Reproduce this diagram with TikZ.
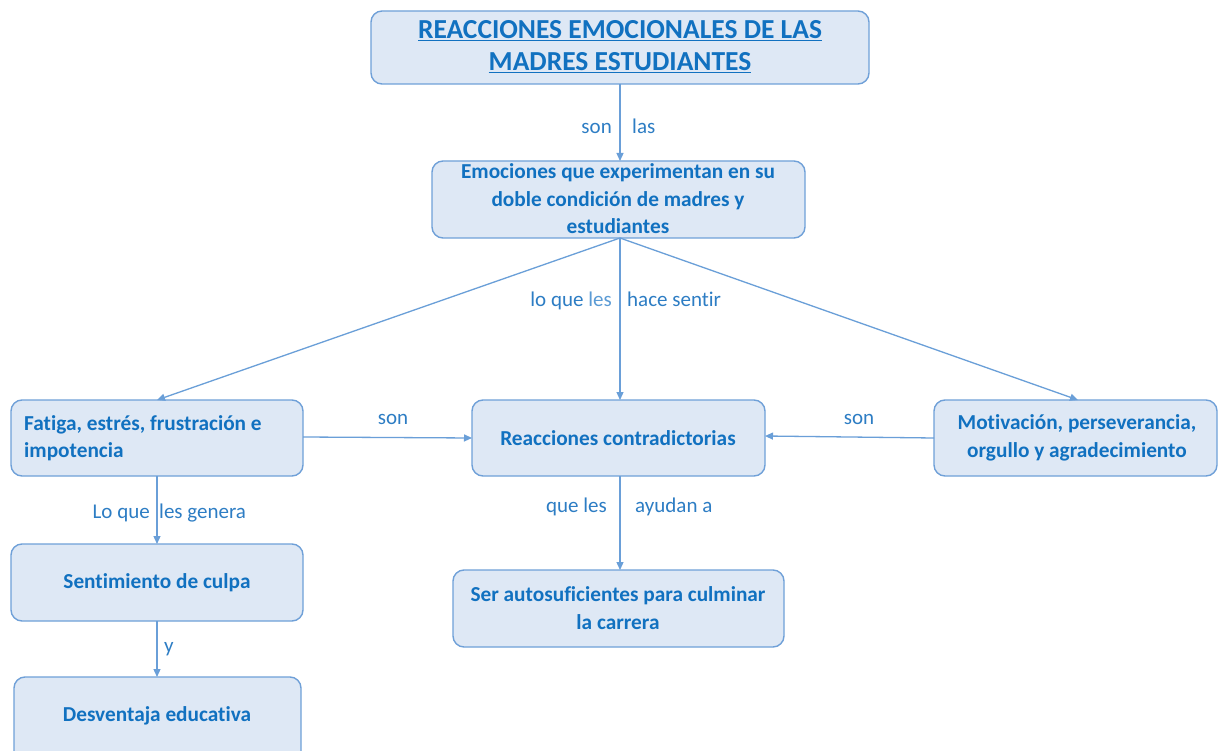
\documentclass[tikz,border=0pt]{standalone}
\usepackage{fontspec}
\setmainfont{Carlito}[Ligatures={NoCommon}]
\usetikzlibrary{arrows.meta}
\definecolor{boxfill}{HTML}{DEE8F5}
\definecolor{boxline}{HTML}{6FA0D8}
\definecolor{txtblue}{HTML}{1171C0}
\definecolor{lblblue}{HTML}{2D7DC4}
\definecolor{lightlbl}{HTML}{5B9BD5}
\definecolor{arrowcol}{HTML}{6A9FD8}
\tikzset{
  box/.style={draw=boxline, fill=boxfill, line width=1.4pt, rounded corners=11pt, inner sep=0pt},
  boxtext/.style={text=txtblue, font=\fontsize{21.3}{27.5}\selectfont\bfseries, align=center, inner sep=0pt},
  lbl/.style={text=lblblue, font=\fontsize{21}{24}\selectfont, inner sep=0pt},
  conn/.style={draw=arrowcol, line width=1.3pt, -{Triangle[length=8pt,width=7pt]}}
}
\begin{document}
\begin{tikzpicture}[x=1pt,y=-1pt]
\useasboundingbox (0,0) rectangle (1218,751);
\fill[white] (0,0) rectangle (1218,751);
% boxes
\path[box] (371,11) rectangle (869,84);
\node[boxtext, font=\fontsize{27.5}{32}\selectfont\bfseries, text=txtblue] (title) at (620,47) {\underline{REACCIONES EMOCIONALES DE LAS}\\\underline{MADRES ESTUDIANTES}};
\coordinate (titleB) at (620,84);

\path[box] (432,161) rectangle (805,238);
\node[boxtext] at (618,199) {Emociones que experimentan en su\\doble condición de madres y\\estudiantes};
\coordinate (emoT) at (620,161);
\coordinate (emoB) at (620,238);

\path[box] (11,400) rectangle (303,476);
\node[boxtext, align=left, anchor=west] at (24,438) {Fatiga, estrés, frustración e\\impotencia};
\coordinate (fatT) at (157,400);
\coordinate (fatR) at (303,437);
\coordinate (fatB) at (157,476);

\path[box] (472,400) rectangle (765,476);
\node[boxtext] at (618,438) {Reacciones contradictorias};
\coordinate (reaT) at (620,400);
\coordinate (reaL) at (472,438);
\coordinate (reaR) at (765,436);
\coordinate (reaB) at (620,476);

\path[box] (934,400) rectangle (1217,476);
\node[boxtext] at (1077,438) {Motivación, perseverancia,\\orgullo y agradecimiento};
\coordinate (motT) at (1078,400);
\coordinate (motL) at (934,438);

\path[box] (11,544) rectangle (303,621);
\node[boxtext] at (157,583) {Sentimiento de culpa};
\coordinate (senT) at (157,544);
\coordinate (senB) at (157,621);

\path[box] (14,677) rectangle (301,765);
\node[boxtext] at (157,716) {Desventaja educativa};
\coordinate (desT) at (157,677);

\path[box] (453,570) rectangle (784,647);
\node[boxtext] at (618,608) {Ser autosuficientes para culminar\\la carrera};
\coordinate (serT) at (620,570);

% connectors
\draw[conn] (titleB) -- (emoT);
\draw[conn] (emoB) -- (fatT);
\draw[conn] (emoB) -- (reaT);
\draw[conn] (emoB) -- (motT);
\draw[conn] (fatR) -- (reaL);
\draw[conn] (motL) -- (reaR);
\draw[conn] (fatB) -- (senT);
\draw[conn] (senB) -- (desT);
\draw[conn] (reaB) -- (serT);

% labels
\node[lbl, anchor=base east] at (612,134) {son};
\node[lbl, anchor=base west] at (632,134) {las};
\node[lbl, anchor=base east] at (612,307) {lo que \textcolor{lightlbl}{les}};
\node[lbl, anchor=base west] at (627,307) {hace sentir};
\node[lbl, anchor=base] at (393,424) {son};
\node[lbl, anchor=base] at (859,424) {son};
\node[lbl, anchor=base east] at (150,518) {Lo que};
\node[lbl, anchor=base west] at (159,518) {les genera};
\node[lbl, anchor=base west] at (164,652) {y};
\node[lbl, anchor=base east] at (607,512) {que les};
\node[lbl, anchor=base west] at (635,512) {ayudan a};
\end{tikzpicture}
\end{document}
